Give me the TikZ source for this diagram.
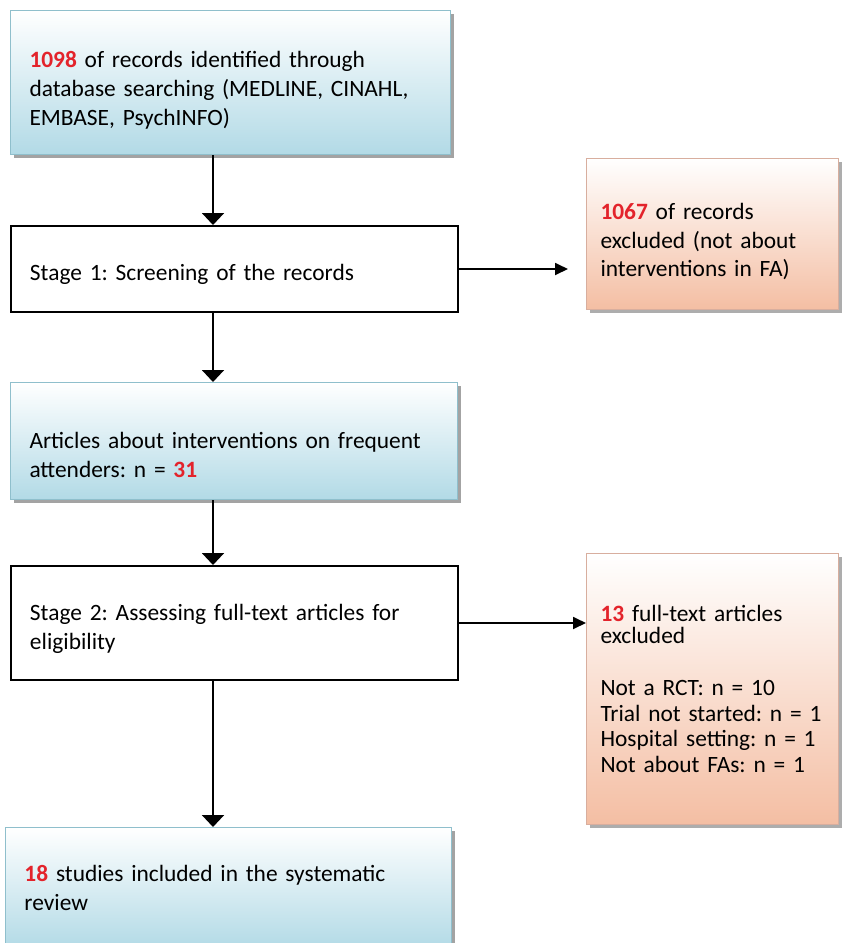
\documentclass[tikz,border=0pt]{standalone}
\usepackage{fontspec}
\setmainfont{Carlito}
\frenchspacing
\usetikzlibrary{positioning}
\usetikzlibrary{shadows}
\usetikzlibrary{arrows.meta}
\definecolor{AQUA}{HTML}{B2DAE6}
\definecolor{AQUA_E}{HTML}{8FBFCC}
\definecolor{PEACH}{HTML}{F4BEA3}
\definecolor{PEACH_E}{HTML}{D8AE9E}
\definecolor{NUM}{HTML}{E3232B}
\newcommand{\redno}[1]{\textcolor{NUM}{\textbf{#1}}}
\tikzset{
	every node/.style = {font=\fontsize{11.7}{14.3}\selectfont, align=left, anchor=north west, inner xsep=9.5pt, inner ysep=0pt},
	textdrop/.style = {execute at begin node={\rule{0pt}{#1}}},
	textlift/.style = {execute at end node={\rule[-#1]{0pt}{#1}}},
	bluebox/.style = {draw=AQUA_E, line width=0.5pt, top color=white, bottom color=AQUA, textdrop=15.8pt, drop shadow={shadow xshift=1.5pt, shadow yshift=-1.5pt, fill=black!45, opacity=0.8}},
	peachbox/.style = {draw=PEACH_E, line width=0.5pt, top color=white, bottom color=PEACH, inner xsep=7pt, text width=112pt, textdrop=15.8pt, drop shadow={shadow xshift=1.5pt, shadow yshift=-1.5pt, fill=black!40, opacity=0.8}},
	stagebox/.style = {draw=black, line width=1pt, fill=white, textdrop=13.8pt},
	arr/.style = {-{Triangle[width=11pt,length=6pt]}, line width=1pt},
	sidearr/.style = {-{Triangle[width=6pt,length=6.5pt]}, line width=0.9pt}
}

\begin{document}
\begin{tikzpicture}[x=0.5pt, y=-0.5pt]
		\clip (0,0) rectangle (843,943);
		\fill[white] (0,0) rectangle (843,943);
		% main column
		\node[bluebox, text width=201pt, minimum height=72pt] (rec) at (10,10)
		      {\redno{1098} of records identified through\\database searching (MEDLINE, CINAHL,\\EMBASE, PsychINFO)};
		\node[stagebox, text width=204.5pt, minimum height=43pt] (scr) at (10,225)
		      {Stage 1: Screening of the records};
		\node[bluebox, textdrop=21.8pt, text width=204.5pt, minimum height=58.5pt] (art) at (10,382)
		      {Articles about interventions on frequent\\attenders: n = \redno{31}};
		\node[stagebox, text width=204.5pt, minimum height=57pt] (ass) at (10,565)
		      {Stage 2: Assessing full-text articles for\\eligibility};
		\node[bluebox, textdrop=8.8pt, textlift=8pt, text width=204pt, minimum height=60.5pt] (inc) at (5,827)
		      {\redno{18} studies included in the systematic\\review};
		% exclusions
		\node[peachbox, minimum height=75.5pt] (exc1) at (586,158)
		      {\redno{1067} of records\\excluded (not about\\interventions in FA)};
		\node[peachbox, textdrop=8.8pt, textlift=8pt, minimum height=135.5pt, font=\fontsize{11.7}{12.75}\selectfont] (exc2) at (586,553)
		      {\redno{13} full-text articles\\[-1.75pt]excluded\\[13.25pt]Not a RCT: n = 10\\Trial not started: n = 1\\Hospital setting: n = 1\\Not about FAs: n = 1};
		% arrows
		\coordinate (spine) at (213,0);
		\draw[arr] (spine |- rec.south) -- (spine |- scr.north);
		\draw[arr] (spine |- scr.south) -- (spine |- art.north);
		\draw[arr] (spine |- art.south) -- (spine |- ass.north);
		\draw[arr] (spine |- ass.south) -- (spine |- inc.north);
		\draw[sidearr, shorten >=9pt] (scr.east) -- (scr.east -| exc1.west);
		\draw[sidearr] (ass.east) -- (ass.east -| exc2.west);
	\end{tikzpicture}
\end{document}
